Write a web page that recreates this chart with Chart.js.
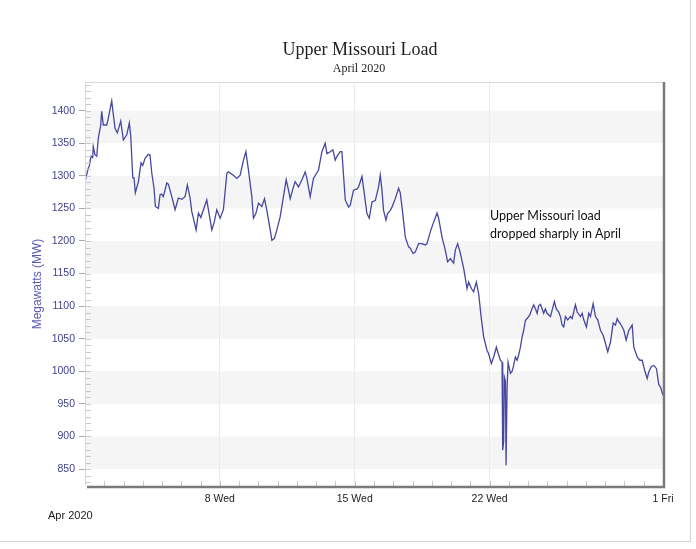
<!DOCTYPE html>
<html>
<head>
<meta charset="utf-8">
<script src="https://cdn.jsdelivr.net/npm/chart.js@4"></script>
<style>
  body { margin: 0; background: #fff; }
  #wrap { position: relative; width: 696px; height: 549px; }
  #frame { position: absolute; left: 0; top: 0; width: 690px; height: 541px;
           border-right: 1px solid #d4d4d4; border-bottom: 1px solid #d4d4d4; pointer-events: none; }
</style>
</head>
<body>
<div id="wrap">
  <canvas id="loadChart"></canvas>
  <div id="frame"></div>
</div>
<script>
// hours since Apr 1 00:00
const hours = [
  0, 4.1, 5.6, 7.5, 9.6, 10.3, 12.5, 14.6, 16.6, 19.6, 20.8, 22.8, 27.1, 29.1, 33.3, 35.3,
  37.4, 40.3, 44.5, 47.8, 52.0, 55.2, 57.0, 59.5, 61.1, 62.7, 66.5, 69.8, 71.9, 74.8, 78.9, 81.0,
  83.2, 86.0, 87.7, 91.4, 93.5, 95.6, 97.6, 101.9, 103.9, 108.1, 112.2, 116.3, 120.6, 124.7, 127.5, 130.9,
  133.0, 135.0, 138.4, 141.3, 144.3, 147.5, 151.7, 153.7, 158.0, 161.2, 164.2, 168.3, 172.4, 176.7, 178.7,
  184.9, 189.1, 193.3, 197.4, 200.4, 203.6, 207.8, 209.8, 212.8, 216.1, 220.3, 223.6, 226.5, 230.7, 232.8,
  236.0, 239.0, 243.1, 247.2, 250.6, 253.5, 255.6, 259.7, 261.8, 265.9, 270.2, 274.3, 276.4, 280.5, 284.6,
  290.9, 295.1, 299.2, 301.4, 305.5, 308.8, 311.7, 313.8, 317.9, 320.0, 324.2, 328.3, 330.4, 334.5,
  338.8, 340.8, 345.0, 347.0, 351.2, 354.1, 357.5, 361.6, 365.7, 367.8, 369.9, 371.9, 374.9, 376.9,
  380.3, 382.4, 386.5, 390.6, 392.7, 394.9, 399.0, 403.1, 405.2, 408.6, 411.4, 415.6, 419.8, 423.9,
  426.0, 430.1, 434.3, 438.5, 440.5, 444.7, 448.8, 451.7, 455.1, 459.2, 461.3, 464.2, 467.6, 471.7,
  475.9, 477.9, 481.3, 484.1, 487.5, 490.4, 493.4, 496.6, 500.8, 502.8, 506.2, 509.1, 512.4, 515.3,
  517.4, 519.5, 520.3, 521.5, 522.4, 523.7, 524.5, 525.8, 527.0, 529.9, 532.0, 534.0, 536.1, 538.2,
  540.2, 542.4, 544.5, 546.5, 548.6, 550.7, 553.9, 556.9, 558.9, 561.1, 563.2, 565.2, 567.3, 569.4,
  571.4, 573.5, 575.6, 579.8, 581.9, 584.7, 586.9, 590.1, 592.2, 594.3, 596.3, 598.5, 601.3, 604.7,
  606.8, 610.9, 613.1, 617.2, 619.3, 621.3, 624.6, 627.5, 629.6, 633.0, 635.9, 638.7, 642.1, 645.5,
  648.3, 651.2, 654.6, 657.9, 660.8, 662.9, 664.9, 667.0, 669.2, 671.2, 674.1, 677.4, 681.6, 683.6,
  687.9, 691.1, 694.1, 697.0, 700.3, 702.3, 705.3, 708.6, 711.9, 714.8, 716.9, 720.0
];

// load in MW
const loadMW = [
  1291, 1312, 1316, 1330, 1328, 1345, 1332, 1330, 1358, 1378, 1399, 1378, 1378, 1389, 1415, 1394,
  1373, 1366, 1384, 1355, 1363, 1381, 1361, 1297, 1297, 1274, 1291, 1320, 1316, 1327, 1333, 1332,
  1304, 1281, 1253, 1250, 1271, 1272, 1268, 1289, 1287, 1268, 1248, 1266, 1264, 1268, 1286, 1266,
  1245, 1235, 1217, 1243, 1236, 1248, 1263, 1248, 1217, 1230, 1248, 1235, 1248, 1304, 1306,
  1301, 1296, 1301, 1324, 1337, 1309, 1268, 1235, 1242, 1258, 1253, 1265, 1247, 1217,
  1201, 1204, 1217, 1237, 1268, 1294, 1278, 1265, 1283, 1291, 1283, 1294, 1306, 1296, 1268,
  1296, 1309, 1337, 1350, 1334, 1337, 1340, 1324, 1330, 1337, 1337, 1263, 1252, 1255, 1278,
  1280, 1283, 1299, 1281, 1242, 1235, 1260, 1262, 1283, 1301, 1278, 1247, 1232, 1242,
  1247, 1252, 1265, 1281, 1274, 1252, 1206, 1191, 1189, 1181, 1183, 1196, 1196, 1194,
  1196, 1214, 1229, 1243, 1235, 1206, 1186, 1168, 1173, 1166, 1186, 1196, 1181, 1158,
  1127, 1137, 1127, 1122, 1137, 1119, 1084, 1053, 1032, 1027, 1012, 1022, 1037, 1025,
  1017, 1014, 879, 892, 991, 985, 856, 976, 1014, 997, 1000, 1009, 1022, 1017,
  1025, 1037, 1053, 1063, 1078, 1081, 1086, 1096, 1102, 1096, 1089, 1101, 1103, 1096,
  1089, 1096, 1089, 1084, 1094, 1107, 1096, 1091, 1084, 1071, 1068, 1084, 1079, 1084,
  1081, 1102, 1091, 1084, 1089, 1079, 1068, 1089, 1084, 1104, 1084, 1079, 1063, 1055,
  1043, 1030, 1045, 1074, 1071, 1081, 1076, 1073, 1068, 1063, 1048, 1063, 1071, 1037,
  1022, 1017, 1017, 1002, 989, 999, 1007, 1009, 1004, 979, 976, 963
];

const yTicks = [850, 900, 950, 1000, 1050, 1100, 1150, 1200, 1250, 1300, 1350, 1400];
const xTickHours = [168, 336, 504, 720];
const xTickLabels = ["8 Wed", "15 Wed", "22 Wed", "1 Fri"];
// shaded horizontal bands (low edge, each 50 MW tall)
const bandLows = [850, 950, 1050, 1150, 1250, 1350];

const points = hours.map((h, i) => ({ x: h, y: loadMW[i] }));

// backgrounds, frame, minor ticks and extra text
const decorPlugin = {
  id: "decor",
  beforeDraw(chart) {
    const { ctx, chartArea: a, scales } = chart;
    const y = scales.y;
    ctx.save();
    ctx.fillStyle = "#f5f5f5";
    bandLows.forEach((lo) => {
      const top = y.getPixelForValue(lo + 50);
      const bot = y.getPixelForValue(lo);
      ctx.fillRect(a.left, top, a.right - a.left, bot - top);
    });
    ctx.restore();
  },
  afterDraw(chart) {
    const { ctx, chartArea: a, scales } = chart;
    const x = scales.x;
    const y = scales.y;
    ctx.save();

    // minor ticks on y, every 10 MW, inside the plot
    ctx.strokeStyle = "#c8c8c8";
    ctx.lineWidth = 1;
    ctx.beginPath();
    for (let v = 830; v <= 1440; v += 10) {
      const py = Math.round(y.getPixelForValue(v)) + 0.5;
      ctx.moveTo(a.left, py);
      ctx.lineTo(a.left + 6, py);
    }
    // daily ticks on x, inside the plot
    for (let h = 24; h < 720; h += 24) {
      const px = Math.round(x.getPixelForValue(h)) + 0.5;
      ctx.moveTo(px, a.bottom);
      ctx.lineTo(px, a.bottom - 5);
    }
    ctx.stroke();

    // frame: light top/left, dark right/bottom
    ctx.strokeStyle = "#d8d8d8";
    ctx.beginPath();
    ctx.moveTo(a.left + 0.5, a.bottom);
    ctx.lineTo(a.left + 0.5, a.top + 0.5);
    ctx.lineTo(a.right, a.top + 0.5);
    ctx.stroke();
    ctx.strokeStyle = "#7a7a7a";
    ctx.lineWidth = 2.5;
    ctx.beginPath();
    ctx.moveTo(a.left + 2, a.bottom + 1);
    ctx.lineTo(a.right + 1, a.bottom + 1);
    ctx.lineTo(a.right + 1, a.top);
    ctx.stroke();

    // titles
    ctx.fillStyle = "#1e1e1e";
    ctx.textAlign = "center";
    ctx.textBaseline = "alphabetic";
    ctx.font = "18px 'Liberation Serif', 'Times New Roman', serif";
    ctx.fillText("Upper Missouri Load", 360, 55);
    ctx.font = "12px 'Liberation Serif', 'Times New Roman', serif";
    ctx.fillText("April 2020", 359, 72);

    // year under the axis
    ctx.textAlign = "left";
    ctx.textBaseline = "middle";
    ctx.fillStyle = "#222";
    ctx.font = "11px 'Liberation Sans', Arial, sans-serif";
    ctx.fillText("Apr 2020", a.left - 37, 516);

    // note
    ctx.fillStyle = "#111";
    ctx.font = "12.5px Lato, 'Open Sans', sans-serif";
    ctx.fillText("Upper Missouri load", a.left + 405, 216);
    ctx.fillText("dropped sharply in April", a.left + 405, 234);
    ctx.restore();
  },
};

const ctx = document.getElementById("loadChart").getContext("2d");

new Chart(ctx, {
  type: "line",
  data: {
    datasets: [
      {
        label: "Upper Missouri Load",
        data: points,
        borderColor: "#4747a1",
        borderWidth: 1.3,
        pointRadius: 0,
        tension: 0,
        fill: false,
      },
    ],
  },
  options: {
    responsive: true,
    maintainAspectRatio: false,
    animation: false,
    layout: { padding: { left: 0, top: 82, right: 33, bottom: 0 } },
    plugins: {
      legend: { display: false },
      title: { display: false },
      tooltip: { enabled: false },
    },
    scales: {
      x: {
        type: "linear",
        min: 0,
        max: 720,
        border: { display: false },
        grid: { color: "#ebebeb", drawTicks: false },
        afterBuildTicks: (scale) => {
          scale.ticks = xTickHours.map((h) => ({ value: h }));
        },
        afterFit: (scale) => {
          scale.height = 63;
        },
        ticks: {
          autoSkip: false,
          maxRotation: 0,
          padding: 7,
          color: "#222",
          font: { family: "'Liberation Sans', Arial, sans-serif", size: 10.5 },
          callback: (value) => {
            const i = xTickHours.indexOf(value);
            return i >= 0 ? xTickLabels[i] : "";
          },
        },
      },
      y: {
        min: 824,
        max: 1444,
        border: { display: false },
        grid: { color: "transparent", tickColor: "#a8a8a8", tickLength: 6 },
        afterBuildTicks: (scale) => {
          scale.ticks = yTicks.map((v) => ({ value: v }));
        },
        afterFit: (scale) => {
          scale.width = 85;
        },
        ticks: {
          padding: 4,
          color: "#3f3f8c",
          font: { family: "'Liberation Sans', Arial, sans-serif", size: 10.5 },
          callback: (value) => String(value),
        },
        title: {
          display: true,
          text: "Megawatts (MW)",
          color: "#5a5ab4",
          padding: { top: 30, bottom: 0 },
          font: { family: "'Liberation Sans', Arial, sans-serif", size: 12 },
        },
      },
    },
  },
  plugins: [decorPlugin],
});
</script>
</body>
</html>
